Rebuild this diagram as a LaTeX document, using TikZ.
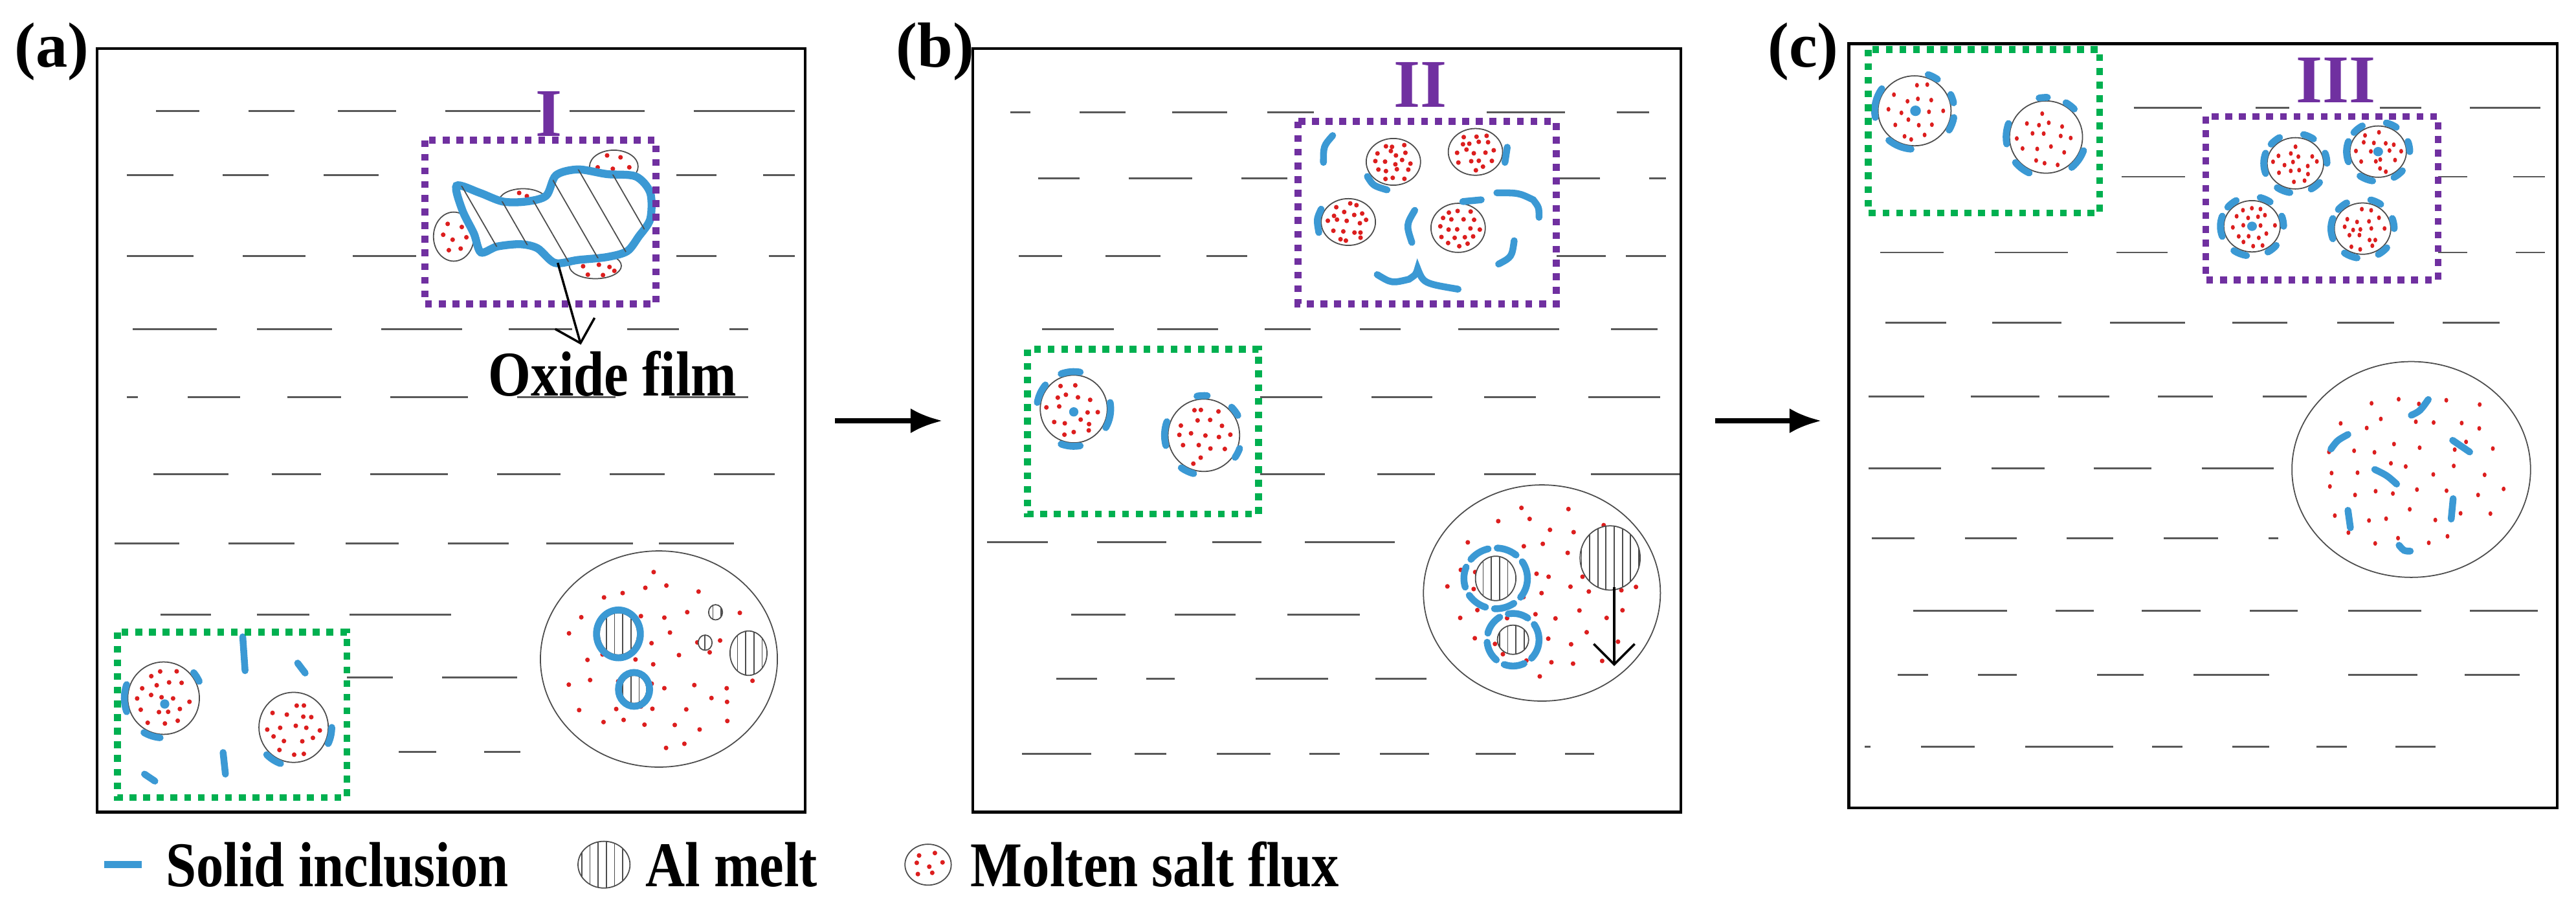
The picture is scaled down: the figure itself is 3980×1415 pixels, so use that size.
\documentclass[tikz,border=0pt]{standalone}
\usepackage{fontspec}
\setmainfont{Liberation Serif}
\usetikzlibrary{patterns.meta,arrows.meta}
\definecolor{incblue}{RGB}{59,153,212}
\definecolor{fluxred}{RGB}{220,30,30}
\definecolor{pur}{RGB}{112,48,160}
\definecolor{grn}{RGB}{0,176,80}
\tikzset{
 box/.style={line width=1.2pt,black},
 melt/.style={line width=0.8pt,black!65},
 pbox/.style={pur,line width=3pt,dash pattern=on 3pt off 3pt},
 gbox/.style={grn,line width=3pt,dash pattern=on 3pt off 3pt},
 inc/.style={incblue,line width=3pt,line cap=round},
 thin/.style={line width=0.5pt,black!70},
 big/.style={font=\fontsize{28}{30}\selectfont\bfseries,xscale=0.86},
 lab/.style={font=\fontsize{28}{30}\selectfont\bfseries},
 rom/.style={font=\fontsize{30}{32}\selectfont\bfseries,text=pur},
 flow/.style={line width=2.2pt,-{Latex[length=14pt,width=11pt]}}
}
\newcommand\fc[5]{\draw[thin,fill=white] (#1,#2) ellipse[x radius=#3,y radius=#4];
 \foreach \i in {-#5,...,#5}{\foreach \j in {-#5,...,#5}{%
  \pgfmathsetmacro\u{(\i+0.3*rand+0.5*mod(abs(\j),2))/(#5+0.8)}%
  \pgfmathsetmacro\v{(\j+0.3*rand)/(#5+0.8)}%
  \pgfmathtruncatemacro\ok{(\u*\u+\v*\v)<0.7?1:0}%
  \ifnum\ok=1 \fill[fluxred] ({#1+\u*#3},{#2+\v*#4}) circle[radius=4];\fi}}}
\newcommand\al[4]{\draw[thin,fill=white] (#1,#2) ellipse[x radius=#3,y radius=#4];
 \fill[pattern={Lines[angle=90,distance=3.6pt,line width=0.5pt]},pattern color=black!70] (#1,#2) ellipse[x radius=#3,y radius=#4];}
\newcommand\fr[6]{\draw[inc] (#1,#2) ++(#5:#3 and #4) arc[start angle=#5,end angle=#6,x radius=#3,y radius=#4];}
\newcommand\hl[2]{\foreach \a/\b in {#2}{\draw[melt] (\a,#1)--(\b,#1);}}
\begin{document}
\begin{tikzpicture}[x=0.01cm,y=-0.01cm]
\pgfmathsetseed{7}
\useasboundingbox (0,0) rectangle (3980,1415);
% ---------------- panel a
\begin{scope}[xscale=0.893,yscale=0.9025]
\hl{190}{270/345,430/510,585/685,770/935,985/1115,1200/1375}
\hl{300}{220/300,385/465,560/655,1170/1240,1320/1375}
\hl{438}{220/335,420/528,610/720,1170/1240,1330/1375}
\hl{563}{230/375,445/575,660/800,880/990,1085/1175,1262/1295}
\hl{680}{220/238,325/415,497/590,675/810,895/1065,1158/1295}
\hl{812}{265/395,470/555,640/775,860/970,1055/1150,1235/1340}
\hl{930}{198/310,395/510,598/690,775/880,945/1095,1140/1270}
\hl{1052}{278/365,445/535,605/780}
\hl{1160}{600/680,765/895}
\hl{1287}{690/755,838/900}
\draw[box] (168,83) rectangle (1393,1390);
\node[rom] (r1) at (950,195) {I};
\fill[white] (735,240) rectangle (1135,520);
\fc{785}{405}{35}{42}{1}
\fc{905}{345}{42}{22}{1}
\fc{1062}{285}{42}{28}{1}
\fc{1030}{455}{45}{22}{1}
\draw[incblue,line width=3.5pt,fill=white,postaction={pattern={Lines[angle=-60,distance=12pt,line width=0.5pt]},pattern color=black!70}]
 plot[smooth cycle,tension=0.5] coordinates{(790,318) (830,330) (870,345) (910,345) (945,335) (962,300) (1000,290) (1050,298) (1100,302) (1125,330) (1125,375) (1105,405) (1085,430) (1050,440) (1000,445) (960,450) (930,425) (900,418) (860,422) (832,432) (820,400) (800,360)};
\draw[pbox] (735,240) rectangle (1135,520);
\coordinate (oxs) at (965,450);
\coordinate (oxt) at (1005,590);
\node[big,inner sep=2pt] (ox) at (1060,640) {Oxide film};
\draw[line width=1pt,-{Straight Barb[length=9pt]}] (oxs) -- (oxt);
% green
\fill[white] (203,1082) rectangle (600,1365);
\fc{283}{1195}{62}{62}{2}
\fill[incblue] (285,1205) circle[radius=8];
\fr{283}{1195}{68}{68}{160}{200}
\fr{283}{1195}{68}{68}{95}{120}
\fr{283}{1195}{68}{68}{-40}{-25}
\fc{508}{1245}{60}{60}{2}
\fr{508}{1245}{66}{66}{110}{135}
\fr{508}{1245}{66}{66}{0}{25}
\draw[inc] (420,1090)--(424,1148);
\draw[inc] (515,1135)--(528,1152);
\draw[inc] (386,1288)--(390,1325);
\draw[inc] (250,1325)--(268,1337);
\draw[gbox] (203,1082) rectangle (600,1365);
% big circle
\fc{1140}{1128}{205}{185}{4}
\al{1070}{1085}{33}{36}\draw[inc] (1070,1085) ellipse[x radius=38,y radius=41];
\al{1097}{1180}{22}{24}\draw[inc] (1097,1180) ellipse[x radius=27,y radius=29];
\al{1238}{1048}{12}{13}
\al{1220}{1100}{12}{13}
\al{1295}{1118}{32}{38}
% legend
\draw[inc,line cap=butt] (180,1480)--(245,1480);
\node[big,anchor=west] (l1) at (275,1480) {Solid inclusion};
\al{1045}{1480}{45}{40}
\node[big,anchor=west] (l2) at (1105,1480) {Al melt};
\node[lab] (la) at (90,88) {(a)};
\end{scope}
% ---------------- panel b
\begin{scope}[shift={(1400,0)},xscale=0.893,yscale=0.9025]
\hl{192}{180/215,300/380,460/555,625/705,1005/1140,1230/1285}
\hl{305}{228/300,385/495,580/660,1130/1200,1285/1315}
\hl{438}{195/270,345/440,520/590,1120/1210,1245/1315}
\hl{563}{235/360,435/540,620/700,785/855,955/1130,1220/1300}
\hl{680}{612/720,805/910,1000/1090,1180/1305}
\hl{812}{275/345,435/545,612/725,815/915,1000/1090,1185/1340}
\hl{928}{140/245,330/450,530/615,690/845}
\hl{1052}{285/380,465/570,660/785}
\hl{1162}{260/330,415/465,605/730,812/900}
\hl{1290}{200/320,395/450,538/630,698/750,820/905,985/1055,1140/1190}
\draw[box] (115,83) rectangle (1340,1390);
\node[rom] (r2) at (890,145) {II};
\fill[white] (678,208) rectangle (1125,520);
\fc{843}{277}{47}{40}{2}
\fc{985}{260}{47}{40}{2}
\fc{765}{380}{47}{40}{2}
\fc{955}{390}{47}{42}{2}
\draw[inc] (738,232) .. controls (722,250) .. (722,278);
\draw[inc] (798,302) .. controls (808,318) .. (832,325);
\draw[inc] (1040,252) -- (1036,278);
\draw[inc] (718,358) .. controls (710,375) .. (714,398);
\draw[inc] (880,360) .. controls (865,385) .. (875,415);
\draw[inc] (963,345) -- (995,342);
\draw[inc] (1022,330) .. controls (1060,330) .. (1085,342) .. controls (1095,355) .. (1095,372);
\draw[inc] (1052,412) .. controls (1048,440) .. (1025,452);
\draw[inc] (815,470) .. controls (840,485) .. (870,478) .. controls (882,470) .. (885,460) .. controls (895,485) .. (955,495);
\draw[pbox] (678,208) rectangle (1125,520);
\fill[white] (210,598) rectangle (610,880);
\fc{290}{700}{58}{58}{2}
\fill[incblue] (290,705) circle[radius=8];
\fr{290}{700}{64}{64}{-110}{-80}
\fr{290}{700}{64}{64}{-10}{30}
\fr{290}{700}{64}{64}{80}{110}
\fr{290}{700}{64}{64}{190}{220}
\fc{515}{745}{62}{62}{2}
\fr{515}{745}{68}{68}{165}{200}
\fr{515}{745}{68}{68}{105}{125}
\fr{515}{745}{68}{68}{-45}{-30}
\fr{515}{745}{66}{66}{20}{35}
\fr{515}{745}{68}{68}{-100}{-85}
\draw[gbox] (210,598) rectangle (610,880);
\fc{1100}{1015}{205}{185}{4}
\al{1020}{990}{35}{38}
\draw[inc,dash pattern=on 9pt off 4pt] (1020,990) ellipse[x radius=55,y radius=52];
\al{1050}{1095}{27}{25}
\draw[inc,dash pattern=on 9pt off 4pt] (1050,1095) ellipse[x radius=45,y radius=45];
\al{1218}{955}{52}{55}
\coordinate (da) at (1225,1005);
\coordinate (db) at (1225,1140);
\draw[line width=1pt,-{Straight Barb[length=9pt]}] (da) -- (db);
\fc{38}{1480}{40}{35}{1}
\node[big,anchor=west] (l3) at (100,1480) {Molten salt flux};
\node[lab] (lb) at (50,88) {(b)};
\end{scope}
% ---------------- panel c
\begin{scope}[shift={(2800,0)},xscale=0.7524,yscale=0.9009]
\hl{185}{660/800,910/980,1165/1250,1350/1495}
\hl{303}{175/280,375/555,635/765,1265/1345,1440/1505}
\hl{433}{140/270,375/525,625/730,1280/1345,1445/1505}
\hl{553}{150/275,370/512,612/765,862/975,1078/1195,1295/1412}
\hl{680}{115/230,325/467,505/610,710/822,925/1015}
\hl{803}{115/265,368/477,578/697,800/948}
\hl{923}{122/210,313/420,522/618,722/833,937/957}
\hl{1047}{207/400,500/578,677/798,898/997,1100/1250,1350/1490}
\hl{1157}{175/238,340/420,585/680,783/938,1100/1243,1340/1453}
\hl{1280}{108/120,223/333,437/618,698/760,862/938,1035/1098,1198/1280}
\draw[box] (75,75) rectangle (1530,1385);
\node[rom] (r3) at (1075,138) {III};
\fill[white] (115,85) rectangle (590,365);
\fc{210}{190}{75}{60}{2}
\fill[incblue] (212,190) ellipse[x radius=11,y radius=9];
\fr{210}{190}{82}{66}{170}{215}
\fr{210}{190}{82}{66}{10}{30}
\fr{210}{190}{82}{66}{95}{130}
\fr{210}{190}{82}{66}{-70}{-55}
\fr{210}{190}{82}{66}{-25}{-12}
\fc{480}{235}{75}{62}{2}
\fr{480}{235}{82}{68}{170}{200}
\fr{480}{235}{82}{68}{115}{140}
\fr{480}{235}{82}{68}{20}{50}
\fr{480}{235}{82}{68}{-60}{-45}
\fr{480}{235}{82}{68}{-100}{-88}
\draw[gbox] (115,85) rectangle (590,365);
\fill[white] (808,200) rectangle (1285,480);
\foreach \cx/\cy/\dd in {992/280/0,1162/260/1,903/388/1,1130/392/0}{
 \fc{\cx}{\cy}{58}{44}{2}
 \ifnum\dd=1 \fill[incblue] (\cx,\cy) ellipse[x radius=10,y radius=8];\fi
 \fr{\cx}{\cy}{65}{51}{160}{200}
 \fr{\cx}{\cy}{65}{51}{100}{125}
 \fr{\cx}{\cy}{65}{51}{40}{60}
 \fr{\cx}{\cy}{65}{51}{-20}{0}
 \fr{\cx}{\cy}{65}{51}{-75}{-55}
 \fr{\cx}{\cy}{65}{51}{-140}{-120}
}
\draw[pbox] (808,200) rectangle (1285,480);
\fc{1230}{805}{245}{185}{4}
\draw[inc] (1230,712) .. controls (1248,705) .. (1265,685);
\draw[inc] (1065,770) .. controls (1078,755) .. (1100,745);
\draw[inc] (1315,755) -- (1350,775);
\draw[inc] (1155,805) .. controls (1180,815) .. (1200,830);
\draw[inc] (1100,875) -- (1105,905);
\draw[inc] (1316,855) -- (1312,890);
\draw[inc] (1205,935) .. controls (1215,945) .. (1228,945);
\end{scope}
\node[lab] (lc) at (2786,80) {(c)};
\coordinate (a1) at (1290,650); \coordinate (a2) at (1456,650);
\coordinate (b1) at (2650,650); \coordinate (b2) at (2814,650);
\draw[flow] (a1) -- (a2);
\draw[flow] (b1) -- (b2);
\end{tikzpicture}
\end{document}
